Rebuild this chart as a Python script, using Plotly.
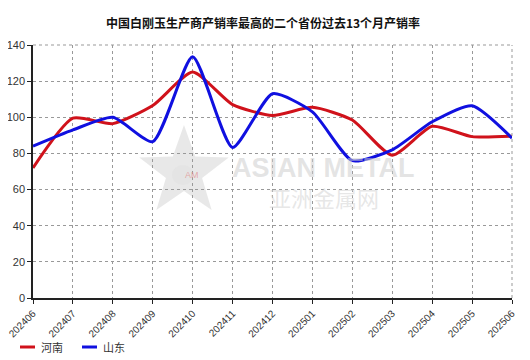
import math
import plotly.graph_objects as go

months = ["202406", "202407", "202408", "202409", "202410", "202411", "202412",
          "202501", "202502", "202503", "202504", "202505", "202506"]
henan = [72, 99.5, 96.5, 106.5, 125, 107, 101, 105.5, 98.5, 79, 95, 89.3, 89.5]
shandong = [84, 93, 100, 86.5, 133.5, 83.3, 113, 103, 76, 82, 97.5, 106.4, 88.5]
series_names = ["河南", "山东"]
series_colors = ["#d0121b", "#1010e0"]
title_text = "中国白刚玉生产商产销率最高的二个省份过去13个月产销率"
y_ticks = [0, 20, 40, 60, 80, 100, 120, 140]

OFF = 8  # page body margin
W, H = 522, 352
L, T = 33 - OFF, 45 - OFF
PW, PH = 479, 253
R = W - L - PW
B = H - T - PH


def px(x):
    return (x - OFF - L) / PW


def py(y):
    return (H - B - (y - OFF)) / PH


fig = go.Figure()

# watermark star
cx, cy, ro, ri = 184, 172, 47, 19
pts = []
for k in range(10):
    ang = -math.pi / 2 + k * math.pi / 5
    r = ro if k % 2 == 0 else ri
    pts.append((px(cx + r * math.cos(ang)), py(cy + r * math.sin(ang))))
path = "M " + " L ".join(f"{a:.4f},{b:.4f}" for a, b in pts) + " Z"
fig.add_shape(type="path", xref="paper", yref="paper", path=path, layer="below",
              fillcolor="rgba(205,205,205,0.45)", line=dict(width=0))
fig.add_shape(type="circle", xref="paper", yref="paper", layer="below",
              x0=px(172), x1=px(194), y0=py(185), y1=py(165),
              fillcolor="rgba(225,225,225,0.6)", line=dict(width=0))
fig.add_annotation(text="AM", xref="paper", yref="paper", x=px(183), y=py(175), showarrow=False,
                   font=dict(size=9, color="rgba(225,140,140,0.7)"))
fig.add_annotation(text="<b>ASIAN METAL</b>", xref="paper", yref="paper", x=px(323), y=py(168),
                   showarrow=False,
                   font=dict(size=27, color="rgba(205,205,205,0.55)", family="Liberation Sans"))
fig.add_annotation(text="亚洲金属网", xref="paper", yref="paper", x=px(324), y=py(197), showarrow=False,
                   font=dict(size=22, color="rgba(210,210,210,0.55)", family="Noto Sans CJK SC"))

fig.add_trace(go.Scatter(x=months, y=henan, name=series_names[0], mode="lines",
                         line=dict(color=series_colors[0], width=3, shape="spline", smoothing=0.6)))
fig.add_trace(go.Scatter(x=months, y=shandong, name=series_names[1], mode="lines",
                         line=dict(color=series_colors[1], width=3, shape="spline", smoothing=0.6)))

# manual legend
for i, (nm, col) in enumerate(zip(series_names, series_colors)):
    x0 = 20 + i * 62
    fig.add_shape(type="line", xref="paper", yref="paper", x0=px(x0), x1=px(x0 + 15),
                  y0=py(347), y1=py(347), line=dict(color=col, width=3))
    fig.add_annotation(text=nm, xref="paper", yref="paper", x=px(x0 + 19), y=py(347),
                       xanchor="left", yanchor="middle", showarrow=False,
                       font=dict(size=11, color="#333", family="Noto Sans CJK SC"))

fig.update_layout(
    width=W, height=H,
    margin=dict(l=L, r=R, t=T, b=B),
    paper_bgcolor="white", plot_bgcolor="white",
    font=dict(family="Liberation Sans, Arial, Noto Sans CJK SC", size=11, color="#333"),
    title=dict(text="<b>" + title_text + "</b>", x=(263 - OFF) / W, xanchor="center",
               y=1 - (24 - OFF) / H, yanchor="middle",
               font=dict(size=12, color="#111", family="Noto Sans CJK SC")),
    showlegend=False,
    xaxis=dict(type="category", range=[0, 12], automargin=False, showgrid=True, gridcolor="#999",
               griddash="dot", gridwidth=1, showline=True, linecolor="#222", linewidth=1.5,
               ticks="outside", ticklen=4, tickcolor="#222", tickangle=-45,
               tickfont=dict(size=10, color="#333")),
    yaxis=dict(range=[0, 140], tickvals=y_ticks, automargin=False, showgrid=True, gridcolor="#999",
               griddash="dot", gridwidth=1, showline=True, linecolor="#222", linewidth=1.5,
               ticks="outside", ticklen=4, tickcolor="#222", zeroline=False,
               tickfont=dict(size=11, color="#333")),
)
fig.add_shape(type="line", xref="paper", yref="paper", x0=0, x1=1, y0=1, y1=1,
              line=dict(color="#999", width=1, dash="dot"))
fig.add_shape(type="line", xref="paper", yref="paper", x0=1, x1=1, y0=0, y1=1,
              line=dict(color="#999", width=1, dash="dot"))

fig.write_html("out.html")
